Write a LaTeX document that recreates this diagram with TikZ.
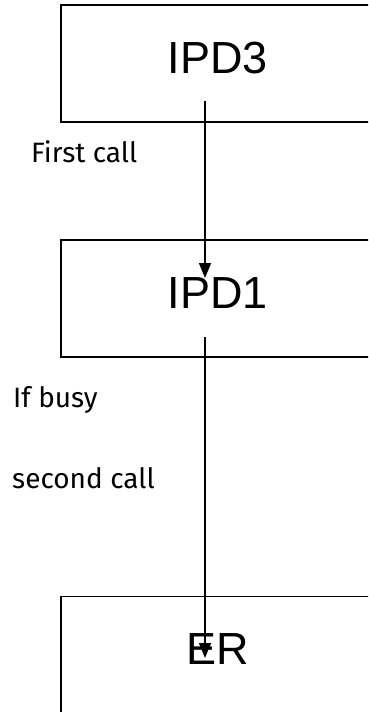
\documentclass[tikz,border=0pt]{standalone}
\usepackage{fontspec}
\setmainfont{Liberation Sans}
\newfontfamily\notefont{Fira Sans}
\usetikzlibrary{arrows.meta}
\begin{document}
\begin{tikzpicture}[x=1pt,y=-1pt]
 \tikzset{unit/.style={draw, line width=1.3pt, minimum width=314pt, minimum height=117pt,
   text height=32pt, text depth=13pt, font=\fontsize{45}{50}\selectfont}}
 \tikzset{note/.style={anchor=base west, inner sep=0pt, font=\notefont\fontsize{28}{32}\selectfont}}
 \tikzset{directed/.style={line width=1.6pt, -{Triangle[width=12pt,length=15pt]}}}
  \clip (0,0) rectangle (368,712);
  \node[unit] (IPD3) at (218,63.5) {IPD3};
  \node[unit] (IPD1) at (218,298.5) {IPD1};
  \node[unit] (ER) at (218,655) {ER};
  \node[note] (first) at (31,162) {First call};
  \node[note] (busy) at (13,407) {If busy};
  \node[note] (second) at (12,488) {second call};
  \coordinate (out3) at (205,101);
  \coordinate (in1) at (205,278);
  \coordinate (out1) at (205,337);
  \coordinate (inER) at (205,658);
  \draw[directed] (out3) -- (in1);
  \draw[directed] (out1) -- (inER);
\end{tikzpicture}
\end{document}
